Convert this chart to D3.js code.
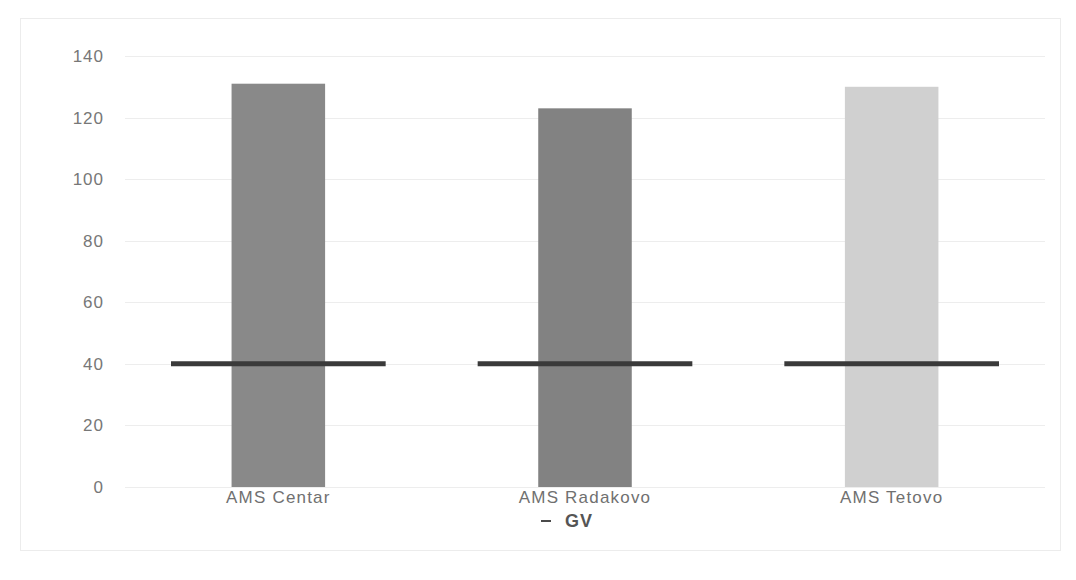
<!DOCTYPE html>
<html>
<head>
<meta charset="utf-8">
<script src="https://cdn.jsdelivr.net/npm/d3@7/dist/d3.min.js"></script>
<style>
  html, body { margin: 0; padding: 0; background: #fff; }
  svg { display: block; }
  text { font-family: "Liberation Sans", "DejaVu Sans", sans-serif; }
</style>
</head>
<body>
<svg id="chart" width="1076" height="580"></svg>
<script>
// Station names, measured annual values and the limit value (GV)
const stations = ["AMS Centar", "AMS Radakovo", "AMS Tetovo"];
const values = [131, 123, 130];
const gvValues = [40, 40, 40];
const barColors = ["#898989", "#828282", "#d0d0d0"];
const yTicks = [0, 20, 40, 60, 80, 100, 120, 140];
const legendLabel = "GV";

const width = 1076, height = 580;
const margin = { top: 56, right: 31, bottom: 93, left: 125 };

const svg = d3.select("#chart");

// Faint frame around the chart area
svg.append("rect")
  .attr("x", 20.5).attr("y", 18.5)
  .attr("width", 1040).attr("height", 532)
  .attr("fill", "#fff")
  .attr("stroke", "#ececec");

const x = d3.scaleBand()
  .domain(stations)
  .range([margin.left, width - margin.right])
  .paddingInner(0)
  .paddingOuter(0);

const y = d3.scaleLinear()
  .domain([0, 140])
  .range([height - margin.bottom, margin.top]);

// Horizontal gridlines
svg.append("g")
  .selectAll("line")
  .data(yTicks)
  .join("line")
  .attr("x1", margin.left).attr("x2", width - margin.right)
  .attr("y1", d => Math.round(y(d)) + 0.5)
  .attr("y2", d => Math.round(y(d)) + 0.5)
  .attr("stroke", "#ededed")
  .attr("stroke-width", 1);

// Y axis labels
const yAxis = d3.axisLeft(y).tickValues(yTicks).tickSize(0).tickPadding(21);
const gy = svg.append("g")
  .attr("transform", `translate(${margin.left},0)`)
  .call(yAxis);
gy.select(".domain").remove();
gy.selectAll("text")
  .attr("font-size", 17)
  .attr("letter-spacing", 1)
  .attr("fill", "#777");

// Bars
const barWidth = x.bandwidth() * 0.305;
svg.append("g")
  .selectAll("rect")
  .data(stations)
  .join("rect")
  .attr("x", d => x(d) + x.bandwidth() / 2 - barWidth / 2)
  .attr("y", (d, i) => y(values[i]))
  .attr("width", barWidth)
  .attr("height", (d, i) => y(0) - y(values[i]))
  .attr("fill", (d, i) => barColors[i]);

// GV limit segments
const gvWidth = x.bandwidth() * 0.7;
svg.append("g")
  .selectAll("line")
  .data(stations)
  .join("line")
  .attr("x1", d => x(d) + x.bandwidth() / 2 - gvWidth / 2)
  .attr("x2", d => x(d) + x.bandwidth() / 2 + gvWidth / 2)
  .attr("y1", (d, i) => y(gvValues[i]))
  .attr("y2", (d, i) => y(gvValues[i]))
  .attr("stroke", "#3a3a3a")
  .attr("stroke-width", 5);

// Category labels
const xAxis = d3.axisBottom(x).tickSize(0).tickPadding(4);
const gx = svg.append("g")
  .attr("transform", `translate(0,${y(0)})`)
  .call(xAxis);
gx.select(".domain").remove();
gx.selectAll("text")
  .attr("font-size", 17)
  .attr("letter-spacing", 1.2)
  .attr("fill", "#707070");

// Legend
const legend = svg.append("g").attr("transform", "translate(541,521)");
legend.append("line")
  .attr("x1", 0).attr("x2", 10)
  .attr("y1", 0).attr("y2", 0)
  .attr("stroke", "#4a4a4a")
  .attr("stroke-width", 2);
legend.append("text")
  .attr("x", 24).attr("y", 0)
  .attr("dy", "0.36em")
  .attr("font-size", 18)
  .attr("font-weight", "bold")
  .attr("letter-spacing", 1)
  .attr("fill", "#555")
  .text(legendLabel);
</script>
</body>
</html>
